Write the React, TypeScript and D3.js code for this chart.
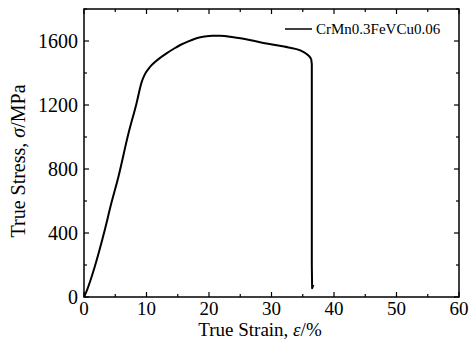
import React from "react";
import * as d3 from "d3";

const strain = [0, 0.5, 1, 1.8, 3.2, 4.4, 5.5, 7.1, 8.4, 9.2, 9.6, 9.9, 10.5, 11.4, 12.3, 13.2, 14.3, 15.4, 16.7, 18.0, 19.3, 20.6, 21.8, 23.9, 26.5, 29.2, 32.0, 34.6, 35.5, 36.1, 36.35];
const stress = [0, 45, 100, 200, 400, 590, 750, 1020, 1210, 1340, 1380, 1403, 1435, 1470, 1498, 1523, 1550, 1575, 1598, 1617, 1628, 1633, 1633, 1623, 1606, 1585, 1565, 1541, 1522, 1502, 1486];
const dropStrain = [36.35, 36.45, 36.45, 36.5, 36.7];
const dropStress = [1486, 1455, 200, 55, 75];

const xTicks = [0, 10, 20, 30, 40, 50, 60];
const yTicks = [0, 400, 800, 1200, 1600];
const xMinor = [5, 15, 25, 35, 45, 55];
const yMinor = [200, 600, 1000, 1400, 1800];
const legendLabel = "CrMn0.3FeVCu0.06";

export default function App() {
  const W = 470, H = 350;
  const L = 84, R = 459, T = 9, B = 297;
  const x = d3.scaleLinear().domain([0, 60]).range([L, R]);
  const y = d3.scaleLinear().domain([0, 1800]).range([B, T]);
  const pts = strain.map((s, i) => [s, stress[i]] as [number, number]);
  const dpts = dropStrain.map((s, i) => [s, dropStress[i]] as [number, number]);
  const smooth = d3.line<[number, number]>().x(d => x(d[0])).y(d => y(d[1])).curve(d3.curveMonotoneX);
  const lin = d3.line<[number, number]>().x(d => x(d[0])).y(d => y(d[1]));
  const font = "Liberation Serif";
  const maj = 5, min = 3;
  return (
    <svg width={W} height={H} style={{ position: "absolute", left: 0, top: 0 }} fontFamily={font}>
      <rect x={0} y={0} width={W} height={H} fill="#fff" />
      <path d={smooth(pts) || ""} fill="none" stroke="#000" strokeWidth={2} strokeLinejoin="round" />
      <path d={lin(dpts) || ""} fill="none" stroke="#000" strokeWidth={2} strokeLinejoin="round" />
      <rect x={L} y={T} width={R - L} height={B - T} fill="none" stroke="#000" strokeWidth={1.5} />
      {xTicks.map(t => (
        <g key={"x" + t}>
          <line x1={x(t)} x2={x(t)} y1={B} y2={B - maj} stroke="#000" strokeWidth={1.2} />
          <line x1={x(t)} x2={x(t)} y1={T} y2={T + maj} stroke="#000" strokeWidth={1.2} />
          <text x={x(t)} y={315} fontSize={19} textAnchor="middle">{t}</text>
        </g>
      ))}
      {xMinor.map(t => (
        <g key={"xm" + t}>
          <line x1={x(t)} x2={x(t)} y1={B} y2={B - min} stroke="#000" strokeWidth={1.2} />
          <line x1={x(t)} x2={x(t)} y1={T} y2={T + min} stroke="#000" strokeWidth={1.2} />
        </g>
      ))}
      {yTicks.map(t => (
        <g key={"y" + t}>
          <line x1={L} x2={L + maj} y1={y(t)} y2={y(t)} stroke="#000" strokeWidth={1.2} />
          <line x1={R} x2={R - maj} y1={y(t)} y2={y(t)} stroke="#000" strokeWidth={1.2} />
          <text x={78} y={y(t) + 7} fontSize={20} textAnchor="end">{t}</text>
        </g>
      ))}
      {yMinor.map(t => (
        <g key={"ym" + t}>
          <line x1={L} x2={L + min} y1={y(t)} y2={y(t)} stroke="#000" strokeWidth={1.2} />
          <line x1={R} x2={R - min} y1={y(t)} y2={y(t)} stroke="#000" strokeWidth={1.2} />
        </g>
      ))}
      <text x={260} y={336} fontSize={19} textAnchor="middle">
        True Strain, <tspan fontStyle="italic">ε</tspan>/%
      </text>
      <text transform="translate(25,161) rotate(-90)" fontSize={20} textAnchor="middle">
        True Stress, <tspan fontStyle="italic">σ</tspan>/MPa
      </text>
      <line x1={285} x2={312} y1={29} y2={29} stroke="#000" strokeWidth={1.5} />
      <text x={316} y={34} fontSize={15}>{legendLabel}</text>
    </svg>
  );
}
